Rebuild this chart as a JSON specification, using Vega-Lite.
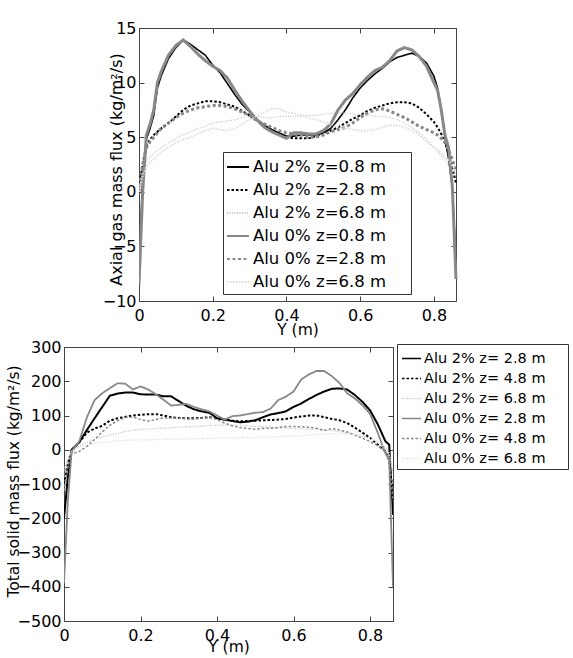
{
"$schema": "https://vega.github.io/schema/vega-lite/v6.json",
"background": "white",
"padding": {"left": 5, "top": 20, "right": 0, "bottom": 0},
"center": true,
"spacing": 0,
"resolve": {"scale": {"color": "independent", "strokeDash": "independent", "x": "independent", "y": "independent"}, "legend": {"color": "independent", "strokeDash": "independent"}},
"config": {
  "font": "DejaVu Sans",
  "view": {"stroke": "#444", "strokeWidth": 1},
  "axis": {"labelFont": "DejaVu Sans", "labelFontSize": 16, "labelColor": "#000", "titleFont": "DejaVu Sans", "titleFontSize": 15.5, "titleFontWeight": "normal", "titleColor": "#000", "domainColor": "#444", "tickColor": "#444", "tickSize": -5, "grid": false, "labelFlush": false, "labelOverlap": false},
  "axisX": {"labelPadding": 11},
  "axisY": {"labelPadding": 8},
  "legend": {"labelFont": "DejaVu Sans", "labelColor": "#000", "symbolType": "stroke", "strokeColor": "#333", "fillColor": "white", "cornerRadius": 0}
},
"datasets": {
"top": [
{"series":"Alu 2% z=0.8 m","Y":0,"flux":-8},{"series":"Alu 2% z=0.8 m","Y":0.01,"flux":1.5},{"series":"Alu 2% z=0.8 m","Y":0.02,"flux":4.8},{"series":"Alu 2% z=0.8 m","Y":0.03,"flux":5.8},{"series":"Alu 2% z=0.8 m","Y":0.04,"flux":7.0},{"series":"Alu 2% z=0.8 m","Y":0.05,"flux":9.5},{"series":"Alu 2% z=0.8 m","Y":0.06,"flux":10.6},{"series":"Alu 2% z=0.8 m","Y":0.08,"flux":12.2},{"series":"Alu 2% z=0.8 m","Y":0.1,"flux":13.2},{"series":"Alu 2% z=0.8 m","Y":0.12,"flux":13.9},{"series":"Alu 2% z=0.8 m","Y":0.14,"flux":13.5},{"series":"Alu 2% z=0.8 m","Y":0.16,"flux":13.0},{"series":"Alu 2% z=0.8 m","Y":0.18,"flux":12.5},{"series":"Alu 2% z=0.8 m","Y":0.2,"flux":11.6},{"series":"Alu 2% z=0.8 m","Y":0.22,"flux":10.9},{"series":"Alu 2% z=0.8 m","Y":0.24,"flux":9.9},{"series":"Alu 2% z=0.8 m","Y":0.26,"flux":8.9},{"series":"Alu 2% z=0.8 m","Y":0.28,"flux":8.0},{"series":"Alu 2% z=0.8 m","Y":0.3,"flux":7.3},{"series":"Alu 2% z=0.8 m","Y":0.32,"flux":6.6},{"series":"Alu 2% z=0.8 m","Y":0.34,"flux":6.1},{"series":"Alu 2% z=0.8 m","Y":0.36,"flux":5.7},{"series":"Alu 2% z=0.8 m","Y":0.38,"flux":5.4},{"series":"Alu 2% z=0.8 m","Y":0.4,"flux":5.1},{"series":"Alu 2% z=0.8 m","Y":0.42,"flux":5.1},{"series":"Alu 2% z=0.8 m","Y":0.44,"flux":5.2},{"series":"Alu 2% z=0.8 m","Y":0.46,"flux":5.2},{"series":"Alu 2% z=0.8 m","Y":0.48,"flux":5.2},{"series":"Alu 2% z=0.8 m","Y":0.5,"flux":5.4},{"series":"Alu 2% z=0.8 m","Y":0.52,"flux":5.8},{"series":"Alu 2% z=0.8 m","Y":0.54,"flux":6.6},{"series":"Alu 2% z=0.8 m","Y":0.56,"flux":7.5},{"series":"Alu 2% z=0.8 m","Y":0.58,"flux":8.6},{"series":"Alu 2% z=0.8 m","Y":0.6,"flux":9.5},{"series":"Alu 2% z=0.8 m","Y":0.62,"flux":10.2},{"series":"Alu 2% z=0.8 m","Y":0.64,"flux":10.8},{"series":"Alu 2% z=0.8 m","Y":0.66,"flux":11.3},{"series":"Alu 2% z=0.8 m","Y":0.68,"flux":11.9},{"series":"Alu 2% z=0.8 m","Y":0.7,"flux":12.3},{"series":"Alu 2% z=0.8 m","Y":0.72,"flux":12.5},{"series":"Alu 2% z=0.8 m","Y":0.74,"flux":12.7},{"series":"Alu 2% z=0.8 m","Y":0.76,"flux":12.4},{"series":"Alu 2% z=0.8 m","Y":0.78,"flux":11.8},{"series":"Alu 2% z=0.8 m","Y":0.8,"flux":10.6},{"series":"Alu 2% z=0.8 m","Y":0.81,"flux":9.5},{"series":"Alu 2% z=0.8 m","Y":0.82,"flux":7.5},{"series":"Alu 2% z=0.8 m","Y":0.83,"flux":5.0},{"series":"Alu 2% z=0.8 m","Y":0.84,"flux":3.0},{"series":"Alu 2% z=0.8 m","Y":0.85,"flux":0.5},{"series":"Alu 2% z=0.8 m","Y":0.86,"flux":-6.5},
{"series":"Alu 2% z=2.8 m","Y":0,"flux":0.5},{"series":"Alu 2% z=2.8 m","Y":0.01,"flux":2.5},{"series":"Alu 2% z=2.8 m","Y":0.02,"flux":4.2},{"series":"Alu 2% z=2.8 m","Y":0.03,"flux":4.8},{"series":"Alu 2% z=2.8 m","Y":0.04,"flux":5.2},{"series":"Alu 2% z=2.8 m","Y":0.05,"flux":5.5},{"series":"Alu 2% z=2.8 m","Y":0.06,"flux":5.8},{"series":"Alu 2% z=2.8 m","Y":0.08,"flux":6.3},{"series":"Alu 2% z=2.8 m","Y":0.1,"flux":6.9},{"series":"Alu 2% z=2.8 m","Y":0.12,"flux":7.5},{"series":"Alu 2% z=2.8 m","Y":0.14,"flux":7.9},{"series":"Alu 2% z=2.8 m","Y":0.16,"flux":8.1},{"series":"Alu 2% z=2.8 m","Y":0.18,"flux":8.3},{"series":"Alu 2% z=2.8 m","Y":0.2,"flux":8.3},{"series":"Alu 2% z=2.8 m","Y":0.22,"flux":8.2},{"series":"Alu 2% z=2.8 m","Y":0.24,"flux":8.0},{"series":"Alu 2% z=2.8 m","Y":0.26,"flux":7.8},{"series":"Alu 2% z=2.8 m","Y":0.28,"flux":7.4},{"series":"Alu 2% z=2.8 m","Y":0.3,"flux":7.0},{"series":"Alu 2% z=2.8 m","Y":0.32,"flux":6.5},{"series":"Alu 2% z=2.8 m","Y":0.34,"flux":6.0},{"series":"Alu 2% z=2.8 m","Y":0.36,"flux":5.6},{"series":"Alu 2% z=2.8 m","Y":0.38,"flux":5.3},{"series":"Alu 2% z=2.8 m","Y":0.4,"flux":5.0},{"series":"Alu 2% z=2.8 m","Y":0.42,"flux":4.9},{"series":"Alu 2% z=2.8 m","Y":0.44,"flux":4.9},{"series":"Alu 2% z=2.8 m","Y":0.46,"flux":4.9},{"series":"Alu 2% z=2.8 m","Y":0.48,"flux":5.1},{"series":"Alu 2% z=2.8 m","Y":0.5,"flux":5.3},{"series":"Alu 2% z=2.8 m","Y":0.52,"flux":5.6},{"series":"Alu 2% z=2.8 m","Y":0.54,"flux":5.9},{"series":"Alu 2% z=2.8 m","Y":0.56,"flux":6.3},{"series":"Alu 2% z=2.8 m","Y":0.58,"flux":6.7},{"series":"Alu 2% z=2.8 m","Y":0.6,"flux":7.0},{"series":"Alu 2% z=2.8 m","Y":0.62,"flux":7.4},{"series":"Alu 2% z=2.8 m","Y":0.64,"flux":7.7},{"series":"Alu 2% z=2.8 m","Y":0.66,"flux":7.9},{"series":"Alu 2% z=2.8 m","Y":0.68,"flux":8.1},{"series":"Alu 2% z=2.8 m","Y":0.7,"flux":8.2},{"series":"Alu 2% z=2.8 m","Y":0.72,"flux":8.2},{"series":"Alu 2% z=2.8 m","Y":0.74,"flux":8.1},{"series":"Alu 2% z=2.8 m","Y":0.76,"flux":7.7},{"series":"Alu 2% z=2.8 m","Y":0.78,"flux":7.1},{"series":"Alu 2% z=2.8 m","Y":0.8,"flux":6.4},{"series":"Alu 2% z=2.8 m","Y":0.81,"flux":5.9},{"series":"Alu 2% z=2.8 m","Y":0.82,"flux":5.3},{"series":"Alu 2% z=2.8 m","Y":0.83,"flux":4.5},{"series":"Alu 2% z=2.8 m","Y":0.84,"flux":3.5},{"series":"Alu 2% z=2.8 m","Y":0.85,"flux":2.2},{"series":"Alu 2% z=2.8 m","Y":0.86,"flux":0.8},
{"series":"Alu 2% z=6.8 m","Y":0,"flux":0},{"series":"Alu 2% z=6.8 m","Y":0.01,"flux":1.8},{"series":"Alu 2% z=6.8 m","Y":0.02,"flux":2.8},{"series":"Alu 2% z=6.8 m","Y":0.03,"flux":3.2},{"series":"Alu 2% z=6.8 m","Y":0.04,"flux":3.5},{"series":"Alu 2% z=6.8 m","Y":0.05,"flux":3.8},{"series":"Alu 2% z=6.8 m","Y":0.06,"flux":4.0},{"series":"Alu 2% z=6.8 m","Y":0.08,"flux":4.5},{"series":"Alu 2% z=6.8 m","Y":0.1,"flux":4.9},{"series":"Alu 2% z=6.8 m","Y":0.12,"flux":5.2},{"series":"Alu 2% z=6.8 m","Y":0.14,"flux":5.5},{"series":"Alu 2% z=6.8 m","Y":0.16,"flux":5.8},{"series":"Alu 2% z=6.8 m","Y":0.18,"flux":6.0},{"series":"Alu 2% z=6.8 m","Y":0.2,"flux":6.3},{"series":"Alu 2% z=6.8 m","Y":0.22,"flux":6.4},{"series":"Alu 2% z=6.8 m","Y":0.24,"flux":6.5},{"series":"Alu 2% z=6.8 m","Y":0.26,"flux":6.6},{"series":"Alu 2% z=6.8 m","Y":0.28,"flux":6.8},{"series":"Alu 2% z=6.8 m","Y":0.3,"flux":6.9},{"series":"Alu 2% z=6.8 m","Y":0.32,"flux":6.9},{"series":"Alu 2% z=6.8 m","Y":0.34,"flux":6.8},{"series":"Alu 2% z=6.8 m","Y":0.36,"flux":6.8},{"series":"Alu 2% z=6.8 m","Y":0.38,"flux":6.9},{"series":"Alu 2% z=6.8 m","Y":0.4,"flux":6.9},{"series":"Alu 2% z=6.8 m","Y":0.42,"flux":6.9},{"series":"Alu 2% z=6.8 m","Y":0.44,"flux":6.9},{"series":"Alu 2% z=6.8 m","Y":0.46,"flux":7.0},{"series":"Alu 2% z=6.8 m","Y":0.48,"flux":7.0},{"series":"Alu 2% z=6.8 m","Y":0.5,"flux":7.1},{"series":"Alu 2% z=6.8 m","Y":0.52,"flux":7.2},{"series":"Alu 2% z=6.8 m","Y":0.54,"flux":7.2},{"series":"Alu 2% z=6.8 m","Y":0.56,"flux":7.2},{"series":"Alu 2% z=6.8 m","Y":0.58,"flux":7.1},{"series":"Alu 2% z=6.8 m","Y":0.6,"flux":7.0},{"series":"Alu 2% z=6.8 m","Y":0.62,"flux":7.0},{"series":"Alu 2% z=6.8 m","Y":0.64,"flux":6.9},{"series":"Alu 2% z=6.8 m","Y":0.66,"flux":6.9},{"series":"Alu 2% z=6.8 m","Y":0.68,"flux":6.8},{"series":"Alu 2% z=6.8 m","Y":0.7,"flux":6.6},{"series":"Alu 2% z=6.8 m","Y":0.72,"flux":6.3},{"series":"Alu 2% z=6.8 m","Y":0.74,"flux":5.9},{"series":"Alu 2% z=6.8 m","Y":0.76,"flux":5.4},{"series":"Alu 2% z=6.8 m","Y":0.78,"flux":4.8},{"series":"Alu 2% z=6.8 m","Y":0.8,"flux":4.1},{"series":"Alu 2% z=6.8 m","Y":0.81,"flux":3.7},{"series":"Alu 2% z=6.8 m","Y":0.82,"flux":3.3},{"series":"Alu 2% z=6.8 m","Y":0.83,"flux":2.9},{"series":"Alu 2% z=6.8 m","Y":0.84,"flux":2.5},{"series":"Alu 2% z=6.8 m","Y":0.85,"flux":2.0},{"series":"Alu 2% z=6.8 m","Y":0.86,"flux":1.5},
{"series":"Alu 0% z=0.8 m","Y":0,"flux":-8.5},{"series":"Alu 0% z=0.8 m","Y":0.01,"flux":0},{"series":"Alu 0% z=0.8 m","Y":0.02,"flux":5.2},{"series":"Alu 0% z=0.8 m","Y":0.03,"flux":6.2},{"series":"Alu 0% z=0.8 m","Y":0.04,"flux":7.5},{"series":"Alu 0% z=0.8 m","Y":0.05,"flux":10.0},{"series":"Alu 0% z=0.8 m","Y":0.06,"flux":11.0},{"series":"Alu 0% z=0.8 m","Y":0.08,"flux":12.5},{"series":"Alu 0% z=0.8 m","Y":0.1,"flux":13.4},{"series":"Alu 0% z=0.8 m","Y":0.12,"flux":13.9},{"series":"Alu 0% z=0.8 m","Y":0.14,"flux":13.3},{"series":"Alu 0% z=0.8 m","Y":0.16,"flux":12.6},{"series":"Alu 0% z=0.8 m","Y":0.18,"flux":12.0},{"series":"Alu 0% z=0.8 m","Y":0.2,"flux":11.5},{"series":"Alu 0% z=0.8 m","Y":0.22,"flux":11.1},{"series":"Alu 0% z=0.8 m","Y":0.24,"flux":10.4},{"series":"Alu 0% z=0.8 m","Y":0.26,"flux":9.3},{"series":"Alu 0% z=0.8 m","Y":0.28,"flux":8.3},{"series":"Alu 0% z=0.8 m","Y":0.3,"flux":7.4},{"series":"Alu 0% z=0.8 m","Y":0.32,"flux":6.6},{"series":"Alu 0% z=0.8 m","Y":0.34,"flux":5.9},{"series":"Alu 0% z=0.8 m","Y":0.36,"flux":5.5},{"series":"Alu 0% z=0.8 m","Y":0.38,"flux":5.2},{"series":"Alu 0% z=0.8 m","Y":0.4,"flux":4.9},{"series":"Alu 0% z=0.8 m","Y":0.42,"flux":5.4},{"series":"Alu 0% z=0.8 m","Y":0.44,"flux":5.4},{"series":"Alu 0% z=0.8 m","Y":0.46,"flux":5.3},{"series":"Alu 0% z=0.8 m","Y":0.48,"flux":5.3},{"series":"Alu 0% z=0.8 m","Y":0.5,"flux":5.6},{"series":"Alu 0% z=0.8 m","Y":0.52,"flux":6.2},{"series":"Alu 0% z=0.8 m","Y":0.54,"flux":7.5},{"series":"Alu 0% z=0.8 m","Y":0.56,"flux":8.4},{"series":"Alu 0% z=0.8 m","Y":0.58,"flux":9.0},{"series":"Alu 0% z=0.8 m","Y":0.6,"flux":9.8},{"series":"Alu 0% z=0.8 m","Y":0.62,"flux":10.5},{"series":"Alu 0% z=0.8 m","Y":0.64,"flux":11.1},{"series":"Alu 0% z=0.8 m","Y":0.66,"flux":11.4},{"series":"Alu 0% z=0.8 m","Y":0.68,"flux":12.0},{"series":"Alu 0% z=0.8 m","Y":0.7,"flux":12.9},{"series":"Alu 0% z=0.8 m","Y":0.72,"flux":13.2},{"series":"Alu 0% z=0.8 m","Y":0.74,"flux":13.0},{"series":"Alu 0% z=0.8 m","Y":0.76,"flux":12.4},{"series":"Alu 0% z=0.8 m","Y":0.78,"flux":11.5},{"series":"Alu 0% z=0.8 m","Y":0.8,"flux":10.0},{"series":"Alu 0% z=0.8 m","Y":0.81,"flux":9.3},{"series":"Alu 0% z=0.8 m","Y":0.82,"flux":7.5},{"series":"Alu 0% z=0.8 m","Y":0.83,"flux":5.2},{"series":"Alu 0% z=0.8 m","Y":0.84,"flux":4.0},{"series":"Alu 0% z=0.8 m","Y":0.85,"flux":0.5},{"series":"Alu 0% z=0.8 m","Y":0.86,"flux":-8},
{"series":"Alu 0% z=2.8 m","Y":0,"flux":0},{"series":"Alu 0% z=2.8 m","Y":0.01,"flux":2.5},{"series":"Alu 0% z=2.8 m","Y":0.02,"flux":4.0},{"series":"Alu 0% z=2.8 m","Y":0.03,"flux":4.6},{"series":"Alu 0% z=2.8 m","Y":0.04,"flux":5.0},{"series":"Alu 0% z=2.8 m","Y":0.05,"flux":5.4},{"series":"Alu 0% z=2.8 m","Y":0.06,"flux":5.8},{"series":"Alu 0% z=2.8 m","Y":0.08,"flux":6.3},{"series":"Alu 0% z=2.8 m","Y":0.1,"flux":6.8},{"series":"Alu 0% z=2.8 m","Y":0.12,"flux":7.2},{"series":"Alu 0% z=2.8 m","Y":0.14,"flux":7.5},{"series":"Alu 0% z=2.8 m","Y":0.16,"flux":7.7},{"series":"Alu 0% z=2.8 m","Y":0.18,"flux":7.8},{"series":"Alu 0% z=2.8 m","Y":0.2,"flux":7.9},{"series":"Alu 0% z=2.8 m","Y":0.22,"flux":7.9},{"series":"Alu 0% z=2.8 m","Y":0.24,"flux":7.8},{"series":"Alu 0% z=2.8 m","Y":0.26,"flux":7.6},{"series":"Alu 0% z=2.8 m","Y":0.28,"flux":7.3},{"series":"Alu 0% z=2.8 m","Y":0.3,"flux":7.0},{"series":"Alu 0% z=2.8 m","Y":0.32,"flux":6.5},{"series":"Alu 0% z=2.8 m","Y":0.34,"flux":6.2},{"series":"Alu 0% z=2.8 m","Y":0.36,"flux":5.9},{"series":"Alu 0% z=2.8 m","Y":0.38,"flux":5.6},{"series":"Alu 0% z=2.8 m","Y":0.4,"flux":5.4},{"series":"Alu 0% z=2.8 m","Y":0.42,"flux":5.3},{"series":"Alu 0% z=2.8 m","Y":0.44,"flux":5.2},{"series":"Alu 0% z=2.8 m","Y":0.46,"flux":5.0},{"series":"Alu 0% z=2.8 m","Y":0.48,"flux":5.0},{"series":"Alu 0% z=2.8 m","Y":0.5,"flux":5.2},{"series":"Alu 0% z=2.8 m","Y":0.52,"flux":5.5},{"series":"Alu 0% z=2.8 m","Y":0.54,"flux":5.7},{"series":"Alu 0% z=2.8 m","Y":0.56,"flux":5.9},{"series":"Alu 0% z=2.8 m","Y":0.58,"flux":6.3},{"series":"Alu 0% z=2.8 m","Y":0.6,"flux":6.8},{"series":"Alu 0% z=2.8 m","Y":0.62,"flux":7.2},{"series":"Alu 0% z=2.8 m","Y":0.64,"flux":7.5},{"series":"Alu 0% z=2.8 m","Y":0.66,"flux":7.6},{"series":"Alu 0% z=2.8 m","Y":0.68,"flux":7.4},{"series":"Alu 0% z=2.8 m","Y":0.7,"flux":7.1},{"series":"Alu 0% z=2.8 m","Y":0.72,"flux":6.8},{"series":"Alu 0% z=2.8 m","Y":0.74,"flux":6.4},{"series":"Alu 0% z=2.8 m","Y":0.76,"flux":6.0},{"series":"Alu 0% z=2.8 m","Y":0.78,"flux":5.7},{"series":"Alu 0% z=2.8 m","Y":0.8,"flux":5.4},{"series":"Alu 0% z=2.8 m","Y":0.81,"flux":5.2},{"series":"Alu 0% z=2.8 m","Y":0.82,"flux":4.9},{"series":"Alu 0% z=2.8 m","Y":0.83,"flux":4.5},{"series":"Alu 0% z=2.8 m","Y":0.84,"flux":3.8},{"series":"Alu 0% z=2.8 m","Y":0.85,"flux":3.0},{"series":"Alu 0% z=2.8 m","Y":0.86,"flux":1.8},
{"series":"Alu 0% z=6.8 m","Y":0,"flux":0},{"series":"Alu 0% z=6.8 m","Y":0.01,"flux":1.5},{"series":"Alu 0% z=6.8 m","Y":0.02,"flux":2.3},{"series":"Alu 0% z=6.8 m","Y":0.03,"flux":2.7},{"series":"Alu 0% z=6.8 m","Y":0.04,"flux":3.0},{"series":"Alu 0% z=6.8 m","Y":0.05,"flux":3.3},{"series":"Alu 0% z=6.8 m","Y":0.06,"flux":3.6},{"series":"Alu 0% z=6.8 m","Y":0.08,"flux":4.1},{"series":"Alu 0% z=6.8 m","Y":0.1,"flux":4.5},{"series":"Alu 0% z=6.8 m","Y":0.12,"flux":4.8},{"series":"Alu 0% z=6.8 m","Y":0.14,"flux":5.0},{"series":"Alu 0% z=6.8 m","Y":0.16,"flux":5.3},{"series":"Alu 0% z=6.8 m","Y":0.18,"flux":5.6},{"series":"Alu 0% z=6.8 m","Y":0.2,"flux":5.8},{"series":"Alu 0% z=6.8 m","Y":0.22,"flux":5.7},{"series":"Alu 0% z=6.8 m","Y":0.24,"flux":5.6},{"series":"Alu 0% z=6.8 m","Y":0.26,"flux":5.8},{"series":"Alu 0% z=6.8 m","Y":0.28,"flux":6.2},{"series":"Alu 0% z=6.8 m","Y":0.3,"flux":6.6},{"series":"Alu 0% z=6.8 m","Y":0.32,"flux":7.0},{"series":"Alu 0% z=6.8 m","Y":0.34,"flux":7.3},{"series":"Alu 0% z=6.8 m","Y":0.36,"flux":7.6},{"series":"Alu 0% z=6.8 m","Y":0.38,"flux":7.6},{"series":"Alu 0% z=6.8 m","Y":0.4,"flux":7.3},{"series":"Alu 0% z=6.8 m","Y":0.42,"flux":7.2},{"series":"Alu 0% z=6.8 m","Y":0.44,"flux":7.0},{"series":"Alu 0% z=6.8 m","Y":0.46,"flux":6.8},{"series":"Alu 0% z=6.8 m","Y":0.48,"flux":6.6},{"series":"Alu 0% z=6.8 m","Y":0.5,"flux":6.4},{"series":"Alu 0% z=6.8 m","Y":0.52,"flux":6.2},{"series":"Alu 0% z=6.8 m","Y":0.54,"flux":6.0},{"series":"Alu 0% z=6.8 m","Y":0.56,"flux":5.8},{"series":"Alu 0% z=6.8 m","Y":0.58,"flux":5.7},{"series":"Alu 0% z=6.8 m","Y":0.6,"flux":5.6},{"series":"Alu 0% z=6.8 m","Y":0.62,"flux":5.6},{"series":"Alu 0% z=6.8 m","Y":0.64,"flux":5.7},{"series":"Alu 0% z=6.8 m","Y":0.66,"flux":5.9},{"series":"Alu 0% z=6.8 m","Y":0.68,"flux":6.1},{"series":"Alu 0% z=6.8 m","Y":0.7,"flux":6.1},{"series":"Alu 0% z=6.8 m","Y":0.72,"flux":5.9},{"series":"Alu 0% z=6.8 m","Y":0.74,"flux":5.6},{"series":"Alu 0% z=6.8 m","Y":0.76,"flux":5.2},{"series":"Alu 0% z=6.8 m","Y":0.78,"flux":4.6},{"series":"Alu 0% z=6.8 m","Y":0.8,"flux":4.0},{"series":"Alu 0% z=6.8 m","Y":0.81,"flux":3.8},{"series":"Alu 0% z=6.8 m","Y":0.82,"flux":3.5},{"series":"Alu 0% z=6.8 m","Y":0.83,"flux":3.2},{"series":"Alu 0% z=6.8 m","Y":0.84,"flux":2.9},{"series":"Alu 0% z=6.8 m","Y":0.85,"flux":2.4},{"series":"Alu 0% z=6.8 m","Y":0.86,"flux":1.8}
],
"bottom": [
{"series":"Alu 2% z= 2.8 m","Y":0,"flux":-200},{"series":"Alu 2% z= 2.8 m","Y":0.01,"flux":-80},{"series":"Alu 2% z= 2.8 m","Y":0.02,"flux":0},{"series":"Alu 2% z= 2.8 m","Y":0.04,"flux":22},{"series":"Alu 2% z= 2.8 m","Y":0.06,"flux":58},{"series":"Alu 2% z= 2.8 m","Y":0.08,"flux":92},{"series":"Alu 2% z= 2.8 m","Y":0.1,"flux":125},{"series":"Alu 2% z= 2.8 m","Y":0.12,"flux":158},{"series":"Alu 2% z= 2.8 m","Y":0.14,"flux":164},{"series":"Alu 2% z= 2.8 m","Y":0.16,"flux":167},{"series":"Alu 2% z= 2.8 m","Y":0.18,"flux":167},{"series":"Alu 2% z= 2.8 m","Y":0.2,"flux":162},{"series":"Alu 2% z= 2.8 m","Y":0.22,"flux":161},{"series":"Alu 2% z= 2.8 m","Y":0.24,"flux":161},{"series":"Alu 2% z= 2.8 m","Y":0.26,"flux":156},{"series":"Alu 2% z= 2.8 m","Y":0.28,"flux":156},{"series":"Alu 2% z= 2.8 m","Y":0.3,"flux":142},{"series":"Alu 2% z= 2.8 m","Y":0.32,"flux":128},{"series":"Alu 2% z= 2.8 m","Y":0.34,"flux":118},{"series":"Alu 2% z= 2.8 m","Y":0.36,"flux":112},{"series":"Alu 2% z= 2.8 m","Y":0.38,"flux":108},{"series":"Alu 2% z= 2.8 m","Y":0.4,"flux":92},{"series":"Alu 2% z= 2.8 m","Y":0.42,"flux":88},{"series":"Alu 2% z= 2.8 m","Y":0.44,"flux":84},{"series":"Alu 2% z= 2.8 m","Y":0.46,"flux":80},{"series":"Alu 2% z= 2.8 m","Y":0.48,"flux":82},{"series":"Alu 2% z= 2.8 m","Y":0.5,"flux":86},{"series":"Alu 2% z= 2.8 m","Y":0.52,"flux":95},{"series":"Alu 2% z= 2.8 m","Y":0.54,"flux":103},{"series":"Alu 2% z= 2.8 m","Y":0.56,"flux":107},{"series":"Alu 2% z= 2.8 m","Y":0.58,"flux":112},{"series":"Alu 2% z= 2.8 m","Y":0.6,"flux":125},{"series":"Alu 2% z= 2.8 m","Y":0.62,"flux":135},{"series":"Alu 2% z= 2.8 m","Y":0.64,"flux":148},{"series":"Alu 2% z= 2.8 m","Y":0.66,"flux":160},{"series":"Alu 2% z= 2.8 m","Y":0.68,"flux":170},{"series":"Alu 2% z= 2.8 m","Y":0.7,"flux":178},{"series":"Alu 2% z= 2.8 m","Y":0.72,"flux":179},{"series":"Alu 2% z= 2.8 m","Y":0.74,"flux":176},{"series":"Alu 2% z= 2.8 m","Y":0.76,"flux":160},{"series":"Alu 2% z= 2.8 m","Y":0.78,"flux":140},{"series":"Alu 2% z= 2.8 m","Y":0.8,"flux":115},{"series":"Alu 2% z= 2.8 m","Y":0.82,"flux":75},{"series":"Alu 2% z= 2.8 m","Y":0.84,"flux":25},{"series":"Alu 2% z= 2.8 m","Y":0.85,"flux":15},{"series":"Alu 2% z= 2.8 m","Y":0.86,"flux":-190},
{"series":"Alu 2% z= 4.8 m","Y":0,"flux":-100},{"series":"Alu 2% z= 4.8 m","Y":0.01,"flux":-40},{"series":"Alu 2% z= 4.8 m","Y":0.02,"flux":-2},{"series":"Alu 2% z= 4.8 m","Y":0.04,"flux":22},{"series":"Alu 2% z= 4.8 m","Y":0.06,"flux":50},{"series":"Alu 2% z= 4.8 m","Y":0.08,"flux":62},{"series":"Alu 2% z= 4.8 m","Y":0.1,"flux":70},{"series":"Alu 2% z= 4.8 m","Y":0.12,"flux":85},{"series":"Alu 2% z= 4.8 m","Y":0.14,"flux":92},{"series":"Alu 2% z= 4.8 m","Y":0.16,"flux":96},{"series":"Alu 2% z= 4.8 m","Y":0.18,"flux":100},{"series":"Alu 2% z= 4.8 m","Y":0.2,"flux":102},{"series":"Alu 2% z= 4.8 m","Y":0.22,"flux":104},{"series":"Alu 2% z= 4.8 m","Y":0.24,"flux":104},{"series":"Alu 2% z= 4.8 m","Y":0.26,"flux":100},{"series":"Alu 2% z= 4.8 m","Y":0.28,"flux":95},{"series":"Alu 2% z= 4.8 m","Y":0.3,"flux":93},{"series":"Alu 2% z= 4.8 m","Y":0.32,"flux":92},{"series":"Alu 2% z= 4.8 m","Y":0.34,"flux":92},{"series":"Alu 2% z= 4.8 m","Y":0.36,"flux":93},{"series":"Alu 2% z= 4.8 m","Y":0.38,"flux":95},{"series":"Alu 2% z= 4.8 m","Y":0.4,"flux":92},{"series":"Alu 2% z= 4.8 m","Y":0.42,"flux":88},{"series":"Alu 2% z= 4.8 m","Y":0.44,"flux":85},{"series":"Alu 2% z= 4.8 m","Y":0.46,"flux":83},{"series":"Alu 2% z= 4.8 m","Y":0.48,"flux":84},{"series":"Alu 2% z= 4.8 m","Y":0.5,"flux":85},{"series":"Alu 2% z= 4.8 m","Y":0.52,"flux":86},{"series":"Alu 2% z= 4.8 m","Y":0.54,"flux":87},{"series":"Alu 2% z= 4.8 m","Y":0.56,"flux":88},{"series":"Alu 2% z= 4.8 m","Y":0.58,"flux":90},{"series":"Alu 2% z= 4.8 m","Y":0.6,"flux":94},{"series":"Alu 2% z= 4.8 m","Y":0.62,"flux":97},{"series":"Alu 2% z= 4.8 m","Y":0.64,"flux":100},{"series":"Alu 2% z= 4.8 m","Y":0.66,"flux":100},{"series":"Alu 2% z= 4.8 m","Y":0.68,"flux":95},{"series":"Alu 2% z= 4.8 m","Y":0.7,"flux":90},{"series":"Alu 2% z= 4.8 m","Y":0.72,"flux":86},{"series":"Alu 2% z= 4.8 m","Y":0.74,"flux":78},{"series":"Alu 2% z= 4.8 m","Y":0.76,"flux":65},{"series":"Alu 2% z= 4.8 m","Y":0.78,"flux":50},{"series":"Alu 2% z= 4.8 m","Y":0.8,"flux":35},{"series":"Alu 2% z= 4.8 m","Y":0.82,"flux":15},{"series":"Alu 2% z= 4.8 m","Y":0.84,"flux":-5},{"series":"Alu 2% z= 4.8 m","Y":0.85,"flux":-30},{"series":"Alu 2% z= 4.8 m","Y":0.86,"flux":-130},
{"series":"Alu 2% z= 6.8 m","Y":0,"flux":-80},{"series":"Alu 2% z= 6.8 m","Y":0.01,"flux":-30},{"series":"Alu 2% z= 6.8 m","Y":0.02,"flux":-3},{"series":"Alu 2% z= 6.8 m","Y":0.04,"flux":12},{"series":"Alu 2% z= 6.8 m","Y":0.06,"flux":22},{"series":"Alu 2% z= 6.8 m","Y":0.08,"flux":30},{"series":"Alu 2% z= 6.8 m","Y":0.1,"flux":37},{"series":"Alu 2% z= 6.8 m","Y":0.12,"flux":43},{"series":"Alu 2% z= 6.8 m","Y":0.14,"flux":48},{"series":"Alu 2% z= 6.8 m","Y":0.16,"flux":53},{"series":"Alu 2% z= 6.8 m","Y":0.18,"flux":57},{"series":"Alu 2% z= 6.8 m","Y":0.2,"flux":59},{"series":"Alu 2% z= 6.8 m","Y":0.22,"flux":60},{"series":"Alu 2% z= 6.8 m","Y":0.24,"flux":62},{"series":"Alu 2% z= 6.8 m","Y":0.26,"flux":63},{"series":"Alu 2% z= 6.8 m","Y":0.28,"flux":64},{"series":"Alu 2% z= 6.8 m","Y":0.3,"flux":66},{"series":"Alu 2% z= 6.8 m","Y":0.32,"flux":67},{"series":"Alu 2% z= 6.8 m","Y":0.34,"flux":68},{"series":"Alu 2% z= 6.8 m","Y":0.36,"flux":69},{"series":"Alu 2% z= 6.8 m","Y":0.38,"flux":71},{"series":"Alu 2% z= 6.8 m","Y":0.4,"flux":72},{"series":"Alu 2% z= 6.8 m","Y":0.42,"flux":72},{"series":"Alu 2% z= 6.8 m","Y":0.44,"flux":72},{"series":"Alu 2% z= 6.8 m","Y":0.46,"flux":71},{"series":"Alu 2% z= 6.8 m","Y":0.48,"flux":70},{"series":"Alu 2% z= 6.8 m","Y":0.5,"flux":68},{"series":"Alu 2% z= 6.8 m","Y":0.52,"flux":67},{"series":"Alu 2% z= 6.8 m","Y":0.54,"flux":66},{"series":"Alu 2% z= 6.8 m","Y":0.56,"flux":64},{"series":"Alu 2% z= 6.8 m","Y":0.58,"flux":63},{"series":"Alu 2% z= 6.8 m","Y":0.6,"flux":62},{"series":"Alu 2% z= 6.8 m","Y":0.62,"flux":61},{"series":"Alu 2% z= 6.8 m","Y":0.64,"flux":60},{"series":"Alu 2% z= 6.8 m","Y":0.66,"flux":59},{"series":"Alu 2% z= 6.8 m","Y":0.68,"flux":58},{"series":"Alu 2% z= 6.8 m","Y":0.7,"flux":56},{"series":"Alu 2% z= 6.8 m","Y":0.72,"flux":53},{"series":"Alu 2% z= 6.8 m","Y":0.74,"flux":50},{"series":"Alu 2% z= 6.8 m","Y":0.76,"flux":46},{"series":"Alu 2% z= 6.8 m","Y":0.78,"flux":40},{"series":"Alu 2% z= 6.8 m","Y":0.8,"flux":32},{"series":"Alu 2% z= 6.8 m","Y":0.82,"flux":22},{"series":"Alu 2% z= 6.8 m","Y":0.84,"flux":5},{"series":"Alu 2% z= 6.8 m","Y":0.85,"flux":-15},{"series":"Alu 2% z= 6.8 m","Y":0.86,"flux":-70},
{"series":"Alu 0% z= 2.8 m","Y":0,"flux":-390},{"series":"Alu 0% z= 2.8 m","Y":0.01,"flux":-150},{"series":"Alu 0% z= 2.8 m","Y":0.02,"flux":-5},{"series":"Alu 0% z= 2.8 m","Y":0.04,"flux":25},{"series":"Alu 0% z= 2.8 m","Y":0.06,"flux":95},{"series":"Alu 0% z= 2.8 m","Y":0.08,"flux":145},{"series":"Alu 0% z= 2.8 m","Y":0.1,"flux":165},{"series":"Alu 0% z= 2.8 m","Y":0.12,"flux":180},{"series":"Alu 0% z= 2.8 m","Y":0.14,"flux":194},{"series":"Alu 0% z= 2.8 m","Y":0.16,"flux":193},{"series":"Alu 0% z= 2.8 m","Y":0.18,"flux":176},{"series":"Alu 0% z= 2.8 m","Y":0.2,"flux":185},{"series":"Alu 0% z= 2.8 m","Y":0.22,"flux":176},{"series":"Alu 0% z= 2.8 m","Y":0.24,"flux":162},{"series":"Alu 0% z= 2.8 m","Y":0.26,"flux":146},{"series":"Alu 0% z= 2.8 m","Y":0.28,"flux":129},{"series":"Alu 0% z= 2.8 m","Y":0.3,"flux":131},{"series":"Alu 0% z= 2.8 m","Y":0.32,"flux":134},{"series":"Alu 0% z= 2.8 m","Y":0.34,"flux":125},{"series":"Alu 0% z= 2.8 m","Y":0.36,"flux":118},{"series":"Alu 0% z= 2.8 m","Y":0.38,"flux":112},{"series":"Alu 0% z= 2.8 m","Y":0.4,"flux":100},{"series":"Alu 0% z= 2.8 m","Y":0.42,"flux":88},{"series":"Alu 0% z= 2.8 m","Y":0.44,"flux":98},{"series":"Alu 0% z= 2.8 m","Y":0.46,"flux":100},{"series":"Alu 0% z= 2.8 m","Y":0.48,"flux":104},{"series":"Alu 0% z= 2.8 m","Y":0.5,"flux":108},{"series":"Alu 0% z= 2.8 m","Y":0.52,"flux":110},{"series":"Alu 0% z= 2.8 m","Y":0.54,"flux":120},{"series":"Alu 0% z= 2.8 m","Y":0.56,"flux":145},{"series":"Alu 0% z= 2.8 m","Y":0.58,"flux":155},{"series":"Alu 0% z= 2.8 m","Y":0.6,"flux":170},{"series":"Alu 0% z= 2.8 m","Y":0.62,"flux":205},{"series":"Alu 0% z= 2.8 m","Y":0.64,"flux":220},{"series":"Alu 0% z= 2.8 m","Y":0.66,"flux":230},{"series":"Alu 0% z= 2.8 m","Y":0.68,"flux":230},{"series":"Alu 0% z= 2.8 m","Y":0.7,"flux":215},{"series":"Alu 0% z= 2.8 m","Y":0.72,"flux":195},{"series":"Alu 0% z= 2.8 m","Y":0.74,"flux":165},{"series":"Alu 0% z= 2.8 m","Y":0.76,"flux":150},{"series":"Alu 0% z= 2.8 m","Y":0.78,"flux":130},{"series":"Alu 0% z= 2.8 m","Y":0.8,"flux":105},{"series":"Alu 0% z= 2.8 m","Y":0.82,"flux":50},{"series":"Alu 0% z= 2.8 m","Y":0.84,"flux":-10},{"series":"Alu 0% z= 2.8 m","Y":0.85,"flux":-30},{"series":"Alu 0% z= 2.8 m","Y":0.86,"flux":-400},
{"series":"Alu 0% z= 4.8 m","Y":0,"flux":-120},{"series":"Alu 0% z= 4.8 m","Y":0.01,"flux":-50},{"series":"Alu 0% z= 4.8 m","Y":0.02,"flux":-12},{"series":"Alu 0% z= 4.8 m","Y":0.04,"flux":-5},{"series":"Alu 0% z= 4.8 m","Y":0.06,"flux":10},{"series":"Alu 0% z= 4.8 m","Y":0.08,"flux":30},{"series":"Alu 0% z= 4.8 m","Y":0.1,"flux":52},{"series":"Alu 0% z= 4.8 m","Y":0.12,"flux":72},{"series":"Alu 0% z= 4.8 m","Y":0.14,"flux":85},{"series":"Alu 0% z= 4.8 m","Y":0.16,"flux":94},{"series":"Alu 0% z= 4.8 m","Y":0.18,"flux":96},{"series":"Alu 0% z= 4.8 m","Y":0.2,"flux":88},{"series":"Alu 0% z= 4.8 m","Y":0.22,"flux":84},{"series":"Alu 0% z= 4.8 m","Y":0.24,"flux":88},{"series":"Alu 0% z= 4.8 m","Y":0.26,"flux":93},{"series":"Alu 0% z= 4.8 m","Y":0.28,"flux":93},{"series":"Alu 0% z= 4.8 m","Y":0.3,"flux":92},{"series":"Alu 0% z= 4.8 m","Y":0.32,"flux":90},{"series":"Alu 0% z= 4.8 m","Y":0.34,"flux":90},{"series":"Alu 0% z= 4.8 m","Y":0.36,"flux":92},{"series":"Alu 0% z= 4.8 m","Y":0.38,"flux":95},{"series":"Alu 0% z= 4.8 m","Y":0.4,"flux":88},{"series":"Alu 0% z= 4.8 m","Y":0.42,"flux":78},{"series":"Alu 0% z= 4.8 m","Y":0.44,"flux":70},{"series":"Alu 0% z= 4.8 m","Y":0.46,"flux":65},{"series":"Alu 0% z= 4.8 m","Y":0.48,"flux":62},{"series":"Alu 0% z= 4.8 m","Y":0.5,"flux":60},{"series":"Alu 0% z= 4.8 m","Y":0.52,"flux":62},{"series":"Alu 0% z= 4.8 m","Y":0.54,"flux":63},{"series":"Alu 0% z= 4.8 m","Y":0.56,"flux":65},{"series":"Alu 0% z= 4.8 m","Y":0.58,"flux":68},{"series":"Alu 0% z= 4.8 m","Y":0.6,"flux":68},{"series":"Alu 0% z= 4.8 m","Y":0.62,"flux":67},{"series":"Alu 0% z= 4.8 m","Y":0.64,"flux":66},{"series":"Alu 0% z= 4.8 m","Y":0.66,"flux":63},{"series":"Alu 0% z= 4.8 m","Y":0.68,"flux":56},{"series":"Alu 0% z= 4.8 m","Y":0.7,"flux":62},{"series":"Alu 0% z= 4.8 m","Y":0.72,"flux":58},{"series":"Alu 0% z= 4.8 m","Y":0.74,"flux":52},{"series":"Alu 0% z= 4.8 m","Y":0.76,"flux":42},{"series":"Alu 0% z= 4.8 m","Y":0.78,"flux":34},{"series":"Alu 0% z= 4.8 m","Y":0.8,"flux":24},{"series":"Alu 0% z= 4.8 m","Y":0.82,"flux":12},{"series":"Alu 0% z= 4.8 m","Y":0.84,"flux":-5},{"series":"Alu 0% z= 4.8 m","Y":0.85,"flux":-25},{"series":"Alu 0% z= 4.8 m","Y":0.86,"flux":-150},
{"series":"Alu 0% z= 6.8 m","Y":0,"flux":-60},{"series":"Alu 0% z= 6.8 m","Y":0.01,"flux":-25},{"series":"Alu 0% z= 6.8 m","Y":0.02,"flux":-5},{"series":"Alu 0% z= 6.8 m","Y":0.04,"flux":8},{"series":"Alu 0% z= 6.8 m","Y":0.06,"flux":14},{"series":"Alu 0% z= 6.8 m","Y":0.08,"flux":18},{"series":"Alu 0% z= 6.8 m","Y":0.1,"flux":22},{"series":"Alu 0% z= 6.8 m","Y":0.12,"flux":24},{"series":"Alu 0% z= 6.8 m","Y":0.14,"flux":26},{"series":"Alu 0% z= 6.8 m","Y":0.16,"flux":27},{"series":"Alu 0% z= 6.8 m","Y":0.18,"flux":28},{"series":"Alu 0% z= 6.8 m","Y":0.2,"flux":29},{"series":"Alu 0% z= 6.8 m","Y":0.22,"flux":29},{"series":"Alu 0% z= 6.8 m","Y":0.24,"flux":30},{"series":"Alu 0% z= 6.8 m","Y":0.26,"flux":30},{"series":"Alu 0% z= 6.8 m","Y":0.28,"flux":31},{"series":"Alu 0% z= 6.8 m","Y":0.3,"flux":31},{"series":"Alu 0% z= 6.8 m","Y":0.32,"flux":32},{"series":"Alu 0% z= 6.8 m","Y":0.34,"flux":32},{"series":"Alu 0% z= 6.8 m","Y":0.36,"flux":33},{"series":"Alu 0% z= 6.8 m","Y":0.38,"flux":33},{"series":"Alu 0% z= 6.8 m","Y":0.4,"flux":34},{"series":"Alu 0% z= 6.8 m","Y":0.42,"flux":34},{"series":"Alu 0% z= 6.8 m","Y":0.44,"flux":35},{"series":"Alu 0% z= 6.8 m","Y":0.46,"flux":35},{"series":"Alu 0% z= 6.8 m","Y":0.48,"flux":36},{"series":"Alu 0% z= 6.8 m","Y":0.5,"flux":36},{"series":"Alu 0% z= 6.8 m","Y":0.52,"flux":37},{"series":"Alu 0% z= 6.8 m","Y":0.54,"flux":37},{"series":"Alu 0% z= 6.8 m","Y":0.56,"flux":38},{"series":"Alu 0% z= 6.8 m","Y":0.58,"flux":39},{"series":"Alu 0% z= 6.8 m","Y":0.6,"flux":40},{"series":"Alu 0% z= 6.8 m","Y":0.62,"flux":41},{"series":"Alu 0% z= 6.8 m","Y":0.64,"flux":43},{"series":"Alu 0% z= 6.8 m","Y":0.66,"flux":45},{"series":"Alu 0% z= 6.8 m","Y":0.68,"flux":46},{"series":"Alu 0% z= 6.8 m","Y":0.7,"flux":47},{"series":"Alu 0% z= 6.8 m","Y":0.72,"flux":47},{"series":"Alu 0% z= 6.8 m","Y":0.74,"flux":45},{"series":"Alu 0% z= 6.8 m","Y":0.76,"flux":43},{"series":"Alu 0% z= 6.8 m","Y":0.78,"flux":39},{"series":"Alu 0% z= 6.8 m","Y":0.8,"flux":33},{"series":"Alu 0% z= 6.8 m","Y":0.82,"flux":24},{"series":"Alu 0% z= 6.8 m","Y":0.84,"flux":8},{"series":"Alu 0% z= 6.8 m","Y":0.85,"flux":-10},{"series":"Alu 0% z= 6.8 m","Y":0.86,"flux":-60}
]
},
"vconcat": [
{
  "width": 355,
  "height": 273,
  "view": {"stroke": null},
  "data": {"name": "top"},
  "layer": [
    {
      "transform": [{"filter": "indexof(datum.series, 'Alu 2%') === 0"}],
      "mark": {"type": "line", "clip": true},
      "encoding": {
        "x": {"field": "Y", "type": "quantitative", "scale": {"domain": [0, 0.86], "range": [0, 317], "nice": false, "zero": false},
              "axis": {"values": [0, 0.2, 0.4, 0.6, 0.8], "format": "~g", "title": "Y (m)", "titleY": 21, "titleBaseline": "top"}},
        "y": {"field": "flux", "type": "quantitative", "scale": {"domain": [-10, 15], "nice": false, "zero": false},
              "axis": {"values": [-10, -5, 0, 5, 10, 15], "format": "d", "title": "Axial gas mass flux (kg/m²/s)", "titleFontSize": 16, "titleX": -18, "titleY": 141, "titleBaseline": "alphabetic"}},
        "color": {"field": "series", "type": "nominal",
                  "scale": {"domain": ["Alu 2% z=0.8 m", "Alu 2% z=2.8 m", "Alu 2% z=6.8 m", "Alu 0% z=0.8 m", "Alu 0% z=2.8 m", "Alu 0% z=6.8 m"], "range": ["#000000", "#000000", "#c0c0c0", "#888888", "#888888", "#dcdcdc"]},
                  "legend": {"orient": "none", "legendX": 84, "legendY": 124, "title": null, "padding": 3, "rowPadding": 2, "labelOffset": 3, "symbolSize": 484, "labelFontSize": 16.5, "symbolStrokeWidth": 2, "labelExpr": "datum.label + '\u00a0\u00a0\u00a0\u00a0\u200b'"}},
        "strokeDash": {"field": "series", "type": "nominal",
                  "scale": {"domain": ["Alu 2% z=0.8 m", "Alu 2% z=2.8 m", "Alu 2% z=6.8 m", "Alu 0% z=0.8 m", "Alu 0% z=2.8 m", "Alu 0% z=6.8 m"], "range": [[1, 0], [2.5, 2], [1, 1.5], [1, 0], [3, 2.5], [1.5, 1.5]]},
                  "legend": {"orient": "none", "legendX": 84, "legendY": 124, "title": null, "padding": 3, "rowPadding": 2, "labelOffset": 3, "symbolSize": 484, "labelFontSize": 16.5, "symbolStrokeWidth": 2, "labelExpr": "datum.label + '\u00a0\u00a0\u00a0\u00a0\u200b'"}},
        "strokeWidth": {"condition": [{"test": "datum.series === 'Alu 2% z=2.8 m'", "value": 2}, {"test": "datum.series === 'Alu 2% z=6.8 m'", "value": 1.2}], "value": 1.6}
      }
    },
    {
      "transform": [{"filter": "indexof(datum.series, 'Alu 0%') === 0"}],
      "mark": {"type": "line", "clip": true},
      "encoding": {
        "x": {"field": "Y", "type": "quantitative", "scale": {"domain": [0, 0.86], "range": [0, 317], "nice": false, "zero": false},
              "axis": {"orient": "top", "values": [0, 0.2, 0.4, 0.6, 0.8], "labels": false, "title": null}},
        "y": {"field": "flux", "type": "quantitative", "scale": {"domain": [-10, 15], "nice": false, "zero": false},
              "axis": {"orient": "right", "offset": -38, "values": [-10, -5, 0, 5, 10, 15], "labels": false, "title": null}},
        "color": {"field": "series", "type": "nominal",
                  "scale": {"domain": ["Alu 2% z=0.8 m", "Alu 2% z=2.8 m", "Alu 2% z=6.8 m", "Alu 0% z=0.8 m", "Alu 0% z=2.8 m", "Alu 0% z=6.8 m"], "range": ["#000000", "#000000", "#c0c0c0", "#888888", "#888888", "#dcdcdc"]},
                  "legend": {"orient": "none", "legendX": 84, "legendY": 124, "title": null, "padding": 3, "rowPadding": 2, "labelOffset": 3, "symbolSize": 484, "labelFontSize": 16.5, "symbolStrokeWidth": 2, "labelExpr": "datum.label + '\u00a0\u00a0\u00a0\u00a0\u200b'"}},
        "strokeDash": {"field": "series", "type": "nominal",
                  "scale": {"domain": ["Alu 2% z=0.8 m", "Alu 2% z=2.8 m", "Alu 2% z=6.8 m", "Alu 0% z=0.8 m", "Alu 0% z=2.8 m", "Alu 0% z=6.8 m"], "range": [[1, 0], [2.5, 2], [1, 1.5], [1, 0], [3, 2.5], [1.5, 1.5]]},
                  "legend": {"orient": "none", "legendX": 84, "legendY": 124, "title": null, "padding": 3, "rowPadding": 2, "labelOffset": 3, "symbolSize": 484, "labelFontSize": 16.5, "symbolStrokeWidth": 2, "labelExpr": "datum.label + '\u00a0\u00a0\u00a0\u00a0\u200b'"}},
        "strokeWidth": {"condition": [{"test": "datum.series === 'Alu 0% z=6.8 m'", "value": 2}], "value": 3}
      }
    }
  ],
  "resolve": {"axis": {"x": "independent", "y": "independent"}}
},
{
  "width": 329,
  "height": 274,
  "data": {"name": "bottom"},
  "layer": [
    {
      "transform": [{"filter": "indexof(datum.series, 'Alu 2%') === 0"}],
      "mark": {"type": "line", "clip": true},
      "encoding": {
        "x": {"field": "Y", "type": "quantitative", "scale": {"domain": [0, 0.86], "nice": false, "zero": false},
              "axis": {"values": [0, 0.2, 0.4, 0.6, 0.8], "format": "~g", "title": "Y (m)", "titleY": 18, "titleBaseline": "top"}},
        "y": {"field": "flux", "type": "quantitative", "scale": {"domain": [-500, 300], "nice": false, "zero": false},
              "axis": {"values": [-500, -400, -300, -200, -100, 0, 100, 200, 300], "format": "d", "title": "Total solid mass flux (kg/m²/s)", "titleX": -46, "titleY": 134, "titleBaseline": "alphabetic"}},
        "color": {"field": "series", "type": "nominal",
                  "scale": {"domain": ["Alu 2% z= 2.8 m", "Alu 2% z= 4.8 m", "Alu 2% z= 6.8 m", "Alu 0% z= 2.8 m", "Alu 0% z= 4.8 m", "Alu 0% z= 6.8 m"], "range": ["#000000", "#000000", "#bbbbbb", "#888888", "#888888", "#dcdcdc"]},
                  "legend": {"orient": "none", "legendX": 333, "legendY": -3, "title": null, "padding": 4, "rowPadding": 3, "labelOffset": 2, "symbolSize": 361, "labelFontSize": 14.5, "symbolStrokeWidth": 1.5, "labelExpr": "datum.label + '\u00a0\u00a0\u00a0\u00a0\u200b'"}},
        "strokeDash": {"field": "series", "type": "nominal",
                  "scale": {"domain": ["Alu 2% z= 2.8 m", "Alu 2% z= 4.8 m", "Alu 2% z= 6.8 m", "Alu 0% z= 2.8 m", "Alu 0% z= 4.8 m", "Alu 0% z= 6.8 m"], "range": [[1, 0], [2.5, 2], [1, 1.5], [1, 0], [2.5, 2], [1, 1.5]]},
                  "legend": {"orient": "none", "legendX": 333, "legendY": -3, "title": null, "padding": 4, "rowPadding": 3, "labelOffset": 2, "symbolSize": 361, "labelFontSize": 14.5, "symbolStrokeWidth": 1.5, "labelExpr": "datum.label + '\u00a0\u00a0\u00a0\u00a0\u200b'"}},
        "strokeWidth": {"condition": [{"test": "datum.series === 'Alu 2% z= 6.8 m'", "value": 1.2}], "value": 2}
      }
    },
    {
      "transform": [{"filter": "indexof(datum.series, 'Alu 0%') === 0"}],
      "mark": {"type": "line", "clip": true},
      "encoding": {
        "x": {"field": "Y", "type": "quantitative", "scale": {"domain": [0, 0.86], "nice": false, "zero": false},
              "axis": {"orient": "top", "values": [0, 0.2, 0.4, 0.6, 0.8], "labels": false, "domain": false, "title": null}},
        "y": {"field": "flux", "type": "quantitative", "scale": {"domain": [-500, 300], "nice": false, "zero": false},
              "axis": {"orient": "right", "values": [-500, -400, -300, -200, -100, 0, 100, 200, 300], "labels": false, "domain": false, "title": null}},
        "color": {"field": "series", "type": "nominal",
                  "scale": {"domain": ["Alu 2% z= 2.8 m", "Alu 2% z= 4.8 m", "Alu 2% z= 6.8 m", "Alu 0% z= 2.8 m", "Alu 0% z= 4.8 m", "Alu 0% z= 6.8 m"], "range": ["#000000", "#000000", "#bbbbbb", "#888888", "#888888", "#dcdcdc"]},
                  "legend": {"orient": "none", "legendX": 333, "legendY": -3, "title": null, "padding": 4, "rowPadding": 3, "labelOffset": 2, "symbolSize": 361, "labelFontSize": 14.5, "symbolStrokeWidth": 1.5, "labelExpr": "datum.label + '\u00a0\u00a0\u00a0\u00a0\u200b'"}},
        "strokeDash": {"field": "series", "type": "nominal",
                  "scale": {"domain": ["Alu 2% z= 2.8 m", "Alu 2% z= 4.8 m", "Alu 2% z= 6.8 m", "Alu 0% z= 2.8 m", "Alu 0% z= 4.8 m", "Alu 0% z= 6.8 m"], "range": [[1, 0], [2.5, 2], [1, 1.5], [1, 0], [2.5, 2], [1, 1.5]]},
                  "legend": {"orient": "none", "legendX": 333, "legendY": -3, "title": null, "padding": 4, "rowPadding": 3, "labelOffset": 2, "symbolSize": 361, "labelFontSize": 14.5, "symbolStrokeWidth": 1.5, "labelExpr": "datum.label + '\u00a0\u00a0\u00a0\u00a0\u200b'"}},
        "strokeWidth": {"condition": [{"test": "datum.series === 'Alu 0% z= 2.8 m'", "value": 1.8}], "value": 1.5}
      }
    }
  ],
  "resolve": {"axis": {"x": "independent", "y": "independent"}}
}
]
}
